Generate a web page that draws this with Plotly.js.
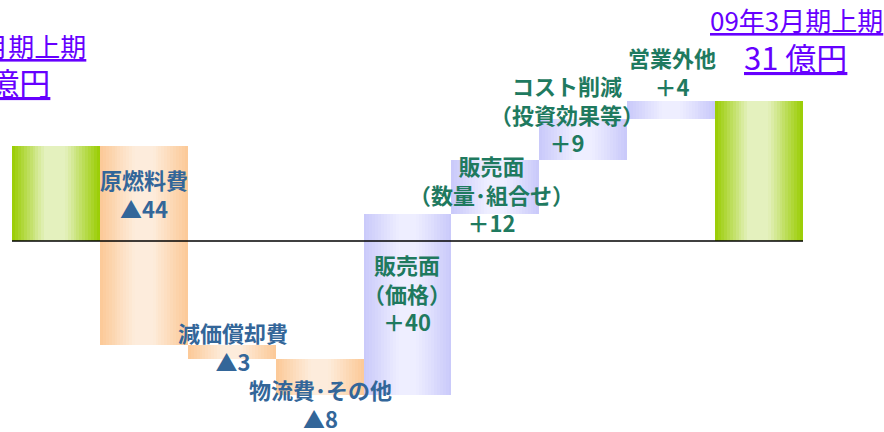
<!DOCTYPE html>
<html>
<head>
<meta charset="utf-8">
<script src="https://cdn.plot.ly/plotly-3.0.1.min.js"></script>
<style>html,body{margin:0;padding:0;background:#fff;}#chart{width:884px;height:432px;}</style>
</head>
<body>
<div id="chart"></div>
<script>
// ---- data ----
const categories = ['08年3月期上期','原燃料費','減価償却費','物流費･その他','販売面（価格）','販売面（数量･組合せ）','コスト削減（投資効果等）','営業外他','09年3月期上期'];
const startValue = 21;
const changes = [-44, -3, -8, 40, 12, 9, 4];
const endValue = 31;
const labelLines = [
  ['原燃料費','▲44'],
  ['減価償却費','▲3'],
  ['物流費･その他','▲8'],
  ['販売面','（価格）','＋40'],
  ['販売面','（数量･組合せ）','＋12'],
  ['コスト削減','（投資効果等）','＋9'],
  ['営業外他','＋4']
];
const startTitle = '08年3月期上期';
const endTitle = '09年3月期上期';
const unit = '億円';

// ---- build waterfall bases/heights ----
const bases = [0], heights = [startValue], groups = ['total'];
let run = startValue;
changes.forEach(c => {
  if (c < 0) { bases.push(run + c); heights.push(-c); groups.push('neg'); }
  else { bases.push(run); heights.push(c); groups.push('pos'); }
  run += c;
});
bases.push(0); heights.push(endValue); groups.push('total');
const xs = categories.map((_, i) => i);

// gradient profiles (edge -> light middle -> edge)
const profiles = {
  total: [[0,[153,204,0]],[0.38,[228,241,190]],[0.6,[228,241,190]],[1,[153,204,0]]],
  neg:   [[0,[252,200,150]],[0.4,[253,236,220]],[0.6,[253,236,220]],[1,[252,200,150]]],
  pos:   [[0,[200,200,250]],[0.4,[238,238,255]],[0.6,[238,238,255]],[1,[200,200,250]]]
};
function colorAt(prof, t) {
  for (let i = 1; i < prof.length; i++) {
    if (t <= prof[i][0]) {
      const a = prof[i-1], b = prof[i];
      const f = (t - a[0]) / (b[0] - a[0] || 1);
      const c = a[1].map((v, k) => Math.round(v + (b[1][k] - v) * f));
      return 'rgb(' + c.join(',') + ')';
    }
  }
  return 'rgb(' + prof[prof.length-1][1].join(',') + ')';
}

const N = 30;
const traces = [];
for (let k = 0; k < N; k++) {
  const t = (k + 0.5) / N;
  traces.push({
    type: 'bar', x: xs, y: heights, base: bases,
    width: (k < N - 1 ? 1.4 : 1) / N, offset: -0.5 + k / N,
    marker: { color: groups.map(g => colorAt(profiles[g], t)), line: { width: 0 } },
    hoverinfo: 'skip', showlegend: false
  });
}

// ---- layout geometry ----
const W = 884, H = 432, mL = 12, mR = 81, mT = 0, mB = 0;
const xRange = [-0.5, 8.5], yRange = [-42.22, 53.27];
const px2x = p => xRange[0] + (p - mL) / (W - mL - mR) * (xRange[1] - xRange[0]);
const px2y = p => yRange[1] - (p - mT) / (H - mT - mB) * (yRange[1] - yRange[0]);

// label placement (pixel centre of each label block)
const labelX = [144, 233, 320, 407, 491, 567, 672];
const labelY = [193, 346, 403, 292, 193, 113, 71];

const negColor = '#336699', posColor = '#1f7a5f', titleColor = '#6600ff';
const FAM = '"Noto Sans CJK JP", "Noto Sans", sans-serif';
const annotations = labelLines.map((lines, i) => ({
  x: px2x(labelX[i]), y: px2y(labelY[i]), xref: 'x', yref: 'y',
  text: '<b>' + lines.join('<br>') + '</b>', showarrow: false, xanchor: 'center', yanchor: 'middle',
  borderpad: 0,
  font: { family: FAM, size: 22, color: changes[i] < 0 ? negColor : posColor }
}));
const tFont = s => ({ family: FAM, size: s, color: titleColor });
annotations.push(
  { x: px2x(796), y: px2y(19), xref: 'x', yref: 'y', text: '<u>' + endTitle + '</u>', showarrow: false, xanchor: 'center', yanchor: 'middle', borderpad: 0, font: tFont(26) },
  { x: px2x(795), y: px2y(56), xref: 'x', yref: 'y', text: '<u>' + endValue + ' ' + unit + '</u>', showarrow: false, xanchor: 'center', yanchor: 'middle', borderpad: 0, font: tFont(31) },
  { x: px2x(87), y: px2y(45), xref: 'x', yref: 'y', text: '<u>' + startTitle + '</u>', showarrow: false, xanchor: 'right', yanchor: 'middle', borderpad: 0, font: tFont(26) },
  { x: px2x(51), y: px2y(81), xref: 'x', yref: 'y', text: '<u>' + startValue + ' ' + unit + '</u>', showarrow: false, xanchor: 'right', yanchor: 'middle', borderpad: 0, font: tFont(31) }
);

const layout = {
  width: W, height: H,
  margin: { l: mL, r: mR, t: mT, b: mB },
  paper_bgcolor: '#ffffff', plot_bgcolor: '#ffffff',
  barmode: 'overlay', bargap: 0,
  xaxis: { range: xRange, visible: false, fixedrange: true },
  yaxis: { range: yRange, visible: false, fixedrange: true },
  showlegend: false,
  shapes: [
    { type: 'line', xref: 'paper', yref: 'y', x0: 0, x1: 1, y0: 0, y1: 0, layer: 'above', line: { color: '#000000', width: 1.5 } }
  ],
  annotations: annotations
};

Plotly.newPlot('chart', traces, layout, { staticPlot: true, displayModeBar: false });
</script>
</body>
</html>
